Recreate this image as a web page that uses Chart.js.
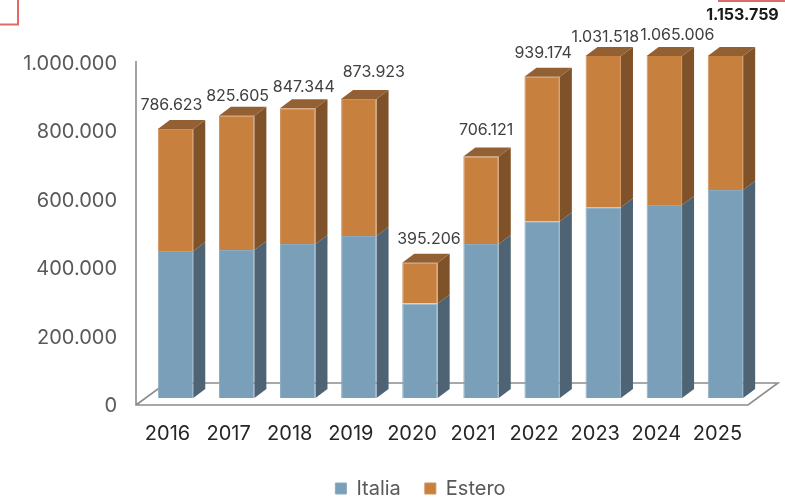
<!DOCTYPE html>
<html lang="it">
<head>
  <meta charset="UTF-8" />
  <title>Italia / Estero 2016-2025</title>
  <script src="https://cdn.jsdelivr.net/npm/chart.js"></script>
  <style>
    html, body { margin: 0; padding: 0; background: #fff; }
    canvas { display: block; }
  </style>
</head>
<body>
  <canvas id="chart" width="785" height="497"></canvas>
  <script>
    const years = ['2016', '2017', '2018', '2019', '2020', '2021', '2022', '2023', '2024', '2025'];
    const totals = [786623, 825605, 847344, 873923, 395206, 706121, 939174, 1031518, 1065006, 1153759];
    const italia = [430000, 433000, 450000, 474000, 276000, 450000, 517000, 558000, 564000, 608000];
    const estero = [356623, 392605, 397344, 399923, 119206, 256121, 422174, 473518, 501006, 545759];
    const yTicks = [0, 200000, 400000, 600000, 800000, 1000000];

    // total labels were hand placed in the original, so each has its own nudge from the bar
    const labelNudgeX = [-4, 1, 6, 15, 9, 5, 1, 2, 13, 17];
    const labelGapY = [24, 19, 21, 27, 24, 26, 24, 19, 21, 41];

    const FONT = 'Inter, sans-serif';
    const DEPTH_X = 12, DEPTH_Y = 9;

    const fmt = n => String(n).replace(/\B(?=(\d{3})+$)/g, '.');

    const box3d = {
      id: 'box3d',
      afterLayout(chart) {
        // legend sits off-centre in the original
        chart.legend.left = 56;
        chart.legend.right = 785;
      },
      beforeDatasetsDraw(chart) {
        const { ctx, chartArea: a, scales: { y } } = chart;
        const y0 = y.getPixelForValue(0);
        ctx.save();
        // wall + floor
        ctx.strokeStyle = '#8c8c8c';
        ctx.lineWidth = 1.6;
        ctx.beginPath();
        ctx.moveTo(136, a.top + 5);
        ctx.lineTo(136, y0 + 7);
        ctx.lineTo(748, y0 + 7);
        ctx.lineTo(778, y0 - 15);
        ctx.lineTo(166, y0 - 15);
        ctx.lineTo(136, y0 + 7);
        ctx.stroke();

        const sides = ['#4e6475', '#7f5229'];
        chart.data.datasets.forEach((ds, i) => {
          chart.getDatasetMeta(i).data.forEach(bar => {
            const right = bar.x + bar.width / 2;
            const left = bar.x - bar.width / 2;
            const top = Math.max(bar.y, a.top);
            const bottom = Math.max(bar.base, a.top);
            ctx.fillStyle = sides[i];
            ctx.beginPath();
            ctx.moveTo(right, top);
            ctx.lineTo(right + DEPTH_X, top - DEPTH_Y);
            ctx.lineTo(right + DEPTH_X, bottom - DEPTH_Y);
            ctx.lineTo(right, bottom);
            ctx.closePath();
            ctx.fill();
            if (i === 1) {
              ctx.fillStyle = '#936033';
              ctx.beginPath();
              ctx.moveTo(left, top);
              ctx.lineTo(left + DEPTH_X, top - DEPTH_Y);
              ctx.lineTo(right + DEPTH_X, top - DEPTH_Y);
              ctx.lineTo(right, top);
              ctx.closePath();
              ctx.fill();
            }
          });
        });
        ctx.restore();
      },
      afterDraw(chart) {
        const { ctx, chartArea: a } = chart;
        ctx.save();
        // totals above the bars
        ctx.textAlign = 'center';
        ctx.textBaseline = 'middle';
        chart.getDatasetMeta(1).data.forEach((bar, i) => {
          const last = i === totals.length - 1;
          ctx.font = (last ? '700 ' : '400 ') + '16px ' + FONT;
          ctx.fillStyle = last ? '#1a1a1a' : '#404040';
          ctx.fillText(fmt(totals[i]), bar.x + labelNudgeX[i], Math.max(bar.y, a.top) - labelGapY[i]);
        });
        // bits of the red frames cut by the crop
        ctx.strokeStyle = '#e06a6a';
        ctx.lineWidth = 2;
        ctx.beginPath();
        ctx.moveTo(0, 24.5);
        ctx.lineTo(18, 24.5);
        ctx.lineTo(18, 0);
        ctx.moveTo(719, 0);
        ctx.lineTo(719, 1);
        ctx.lineTo(785, 1);
        ctx.stroke();
        ctx.restore();
      }
    };

    new Chart(document.getElementById('chart'), {
      type: 'bar',
      plugins: [box3d],
      data: {
        labels: years,
        datasets: [
          { label: 'Italia', data: italia, backgroundColor: '#7a9fb8', borderColor: '#8aabc1', borderWidth: 1 },
          { label: 'Estero', data: estero, backgroundColor: '#c8803f', borderColor: '#cf9058', borderWidth: 1 }
        ]
      },
      options: {
        responsive: false,
        animation: false,
        barPercentage: 0.58,
        categoryPercentage: 1,
        layout: { padding: { left: 0, right: 29, top: 56, bottom: -11.5 } },
        scales: {
          x: {
            stacked: true,
            grid: { display: false },
            border: { display: false },
            afterFit: s => { s.height = 56.5; },
            ticks: {
              color: '#262626',
              padding: 16,
              labelOffset: -8,
              maxRotation: 0,
              font: { family: FONT, size: 20 }
            }
          },
          y: {
            stacked: true,
            min: 0,
            max: 1000000,
            grid: { display: false },
            border: { display: false },
            afterFit: s => { s.width = 145; },
            afterBuildTicks: s => { s.ticks = yTicks.map(value => ({ value })); },
            ticks: {
              color: '#595959',
              padding: 20,
              labelOffset: 8,
              font: { family: FONT, size: 20 },
              callback: v => fmt(v)
            }
          }
        },
        plugins: {
          tooltip: { enabled: false },
          legend: {
            position: 'bottom',
            labels: {
              color: '#595959',
              boxWidth: 11,
              boxHeight: 11,
              padding: 24,
              font: { family: FONT, size: 20 }
            }
          }
        }
      }
    });
  </script>
</body>
</html>
